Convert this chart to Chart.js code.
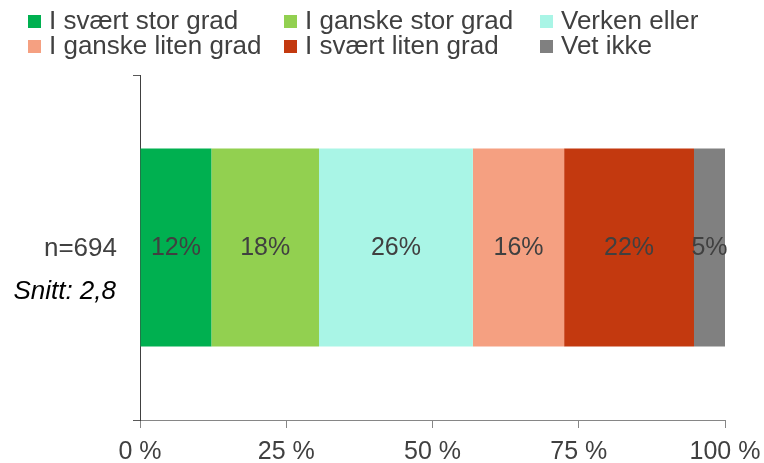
<!DOCTYPE html>
<html>
<head>
<meta charset="utf-8">
<script src="https://cdn.jsdelivr.net/npm/chart.js@4"></script>
<style>
  body { margin: 0; background: #fff; }
  #wrap { position: relative; width: 764px; height: 463px; }
  #legend { position: absolute; left: 0; top: 0; font-family: "Liberation Sans", Arial, sans-serif; font-size: 26px; color: #404040; }
  .item { position: absolute; white-space: nowrap; line-height: 25px; }
  .box { position: absolute; width: 13px; height: 13px; left: 0; top: 6px; }
  .item span.txt { position: absolute; left: 21px; top: -1px; }
</style>
</head>
<body>
<div id="wrap">
  <canvas id="chart" width="764" height="463"></canvas>
  <div id="legend"></div>
</div>
<script>
const categories = ["n=694"];
const average = "Snitt: 2,8";
const seriesNames = ["I svært stor grad", "I ganske stor grad", "Verken eller", "I ganske liten grad", "I svært liten grad", "Vet ikke"];
const seriesValues = [12.2, 18.4, 26.3, 15.6, 22.2, 5.3];
const seriesColors = ["#00B050", "#92D050", "#A9F5E6", "#F5A081", "#C3390F", "#808080"];
const tickValues = [0, 25, 50, 75, 100];

const FONT = '"Liberation Sans", Arial, sans-serif';
const TEXT = "#404040";

// legend, 3 columns x 2 rows like the original
const legendCols = [28, 284, 540];
const legendRows = [9, 34];
const legendEl = document.getElementById("legend");
seriesNames.forEach((name, i) => {
  const d = document.createElement("div");
  d.className = "item";
  d.style.left = legendCols[i % 3] + "px";
  d.style.top = legendRows[Math.floor(i / 3)] + "px";
  d.innerHTML = '<span class="box" style="background:' + seriesColors[i] + '"></span><span class="txt">' + name + '</span>';
  legendEl.appendChild(d);
});

const labelsPlugin = {
  id: "labels",
  afterDatasetsDraw(chart) {
    const ctx = chart.ctx;
    ctx.save();
    ctx.font = "25px " + FONT;
    ctx.fillStyle = TEXT;
    ctx.textAlign = "center";
    ctx.textBaseline = "middle";
    chart.data.datasets.forEach((ds, i) => {
      const el = chart.getDatasetMeta(i).data[0];
      const p = el.getProps(["x", "y", "base"], true);
      ctx.fillText(Math.round(ds.data[0]) + "%", (p.x + p.base) / 2, p.y + 1);
    });
    // category label and average on the left
    const y = chart.scales.y.getPixelForValue(0);
    ctx.textAlign = "right";
    ctx.font = "26px " + FONT;
    ctx.fillText(categories[0], 117, y + 1);
    ctx.font = "italic 26px " + FONT;
    ctx.fillStyle = "#000";
    ctx.fillText(average, 116, y + 44);
    ctx.restore();
  }
};

new Chart(document.getElementById("chart"), {
  type: "bar",
  data: {
    labels: categories,
    datasets: seriesNames.map((name, i) => ({
      label: name,
      data: [seriesValues[i]],
      backgroundColor: seriesColors[i],
      borderWidth: 0,
      barPercentage: 0.574,
      categoryPercentage: 1
    }))
  },
  options: {
    indexAxis: "y",
    responsive: false,
    animation: false,
    layout: { padding: { left: 133, top: 75, right: 39, bottom: 0 } },
    plugins: { legend: { display: false }, tooltip: { enabled: false } },
    scales: {
      x: {
        stacked: true,
        min: 0,
        max: 100,
        afterBuildTicks: (scale) => { scale.ticks = tickValues.map(v => ({ value: v })); },
        afterFit: (scale) => { scale.height = 43; scale.paddingLeft = 0; scale.paddingRight = 0; },
        ticks: {
          color: TEXT,
          font: { family: FONT, size: 25 },
          padding: 9,
          maxRotation: 0,
          callback: (v) => v + " %"
        },
        grid: { drawOnChartArea: false, tickLength: 8, color: "#868686" },
        border: { color: "#868686" }
      },
      y: {
        stacked: true,
        ticks: { display: false },
        grid: { drawOnChartArea: false, offset: true, tickLength: 7, color: "#595959" },
        border: { color: "#404040" }
      }
    }
  },
  plugins: [labelsPlugin]
});
</script>
</body>
</html>
